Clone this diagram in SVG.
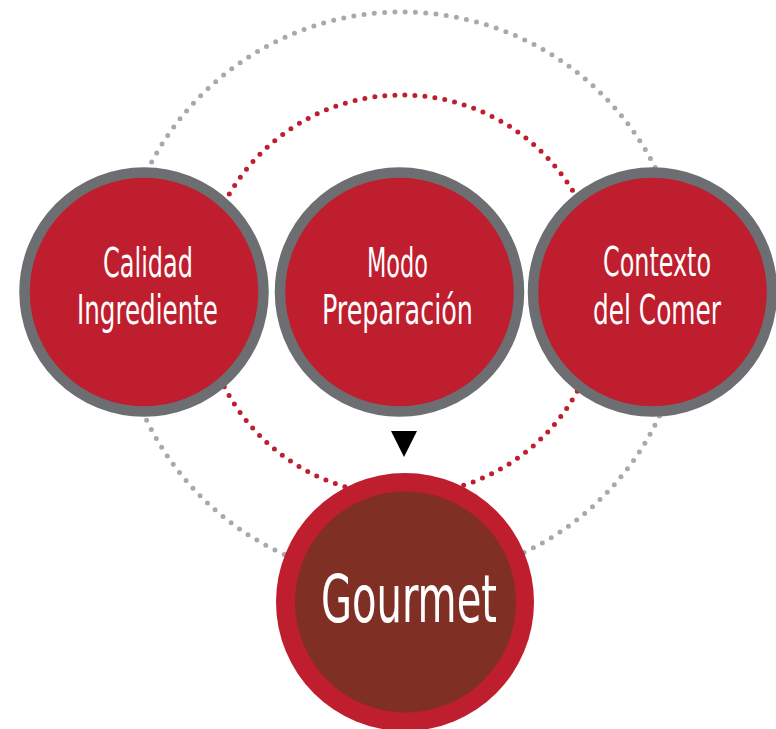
<svg xmlns="http://www.w3.org/2000/svg" width="776" height="729" viewBox="0 0 776 729">
<style>
.ring{fill:none;stroke-linecap:round;stroke-width:5}
.grey{stroke:#A7A9AC}
.red{stroke:#BE1E2D}
.node{fill:#BE1E2D;stroke:#6D6E71;stroke-width:10.5}
.lbl{fill:#FFFFFF;font-family:"DejaVu Sans Condensed","DejaVu Sans",sans-serif;font-stretch:condensed;font-size:40px;text-anchor:middle}
.big{font-size:66px}
</style>
<rect width="776" height="729" fill="#FFFFFF"/>
<g id="connectors">
<circle class="ring grey" cx="402" cy="296" r="284" stroke-dasharray="0 10.315"/>
<circle class="ring red" cx="402" cy="295" r="200" stroke-dasharray="0 10.053"/>
<polygon points="391,431 417,431 404,457" fill="#000000"/>
</g>
<g id="node-calidad">
<circle class="node" cx="144" cy="292" r="119.5"/>
<text class="lbl" x="148" y="277" textLength="90" lengthAdjust="spacingAndGlyphs">Calidad</text>
<text class="lbl" x="147.5" y="324" textLength="141" lengthAdjust="spacingAndGlyphs">Ingrediente</text>
</g>
<g id="node-modo">
<circle class="node" cx="399.5" cy="292" r="119.5"/>
<text class="lbl" x="397.5" y="277" textLength="61" lengthAdjust="spacingAndGlyphs">Modo</text>
<text class="lbl" x="397.5" y="324" textLength="151" lengthAdjust="spacingAndGlyphs">Preparación</text>
</g>
<g id="node-contexto">
<circle class="node" cx="652.5" cy="292" r="119.5"/>
<text class="lbl" x="657" y="276" textLength="108" lengthAdjust="spacingAndGlyphs">Contexto</text>
<text class="lbl" x="657" y="324" textLength="128" lengthAdjust="spacingAndGlyphs">del Comer</text>
</g>
<g id="node-gourmet">
<circle cx="405" cy="602" r="129" fill="#BE1E2D"/>
<circle cx="405.5" cy="602" r="110.5" fill="#7F2F24"/>
<text class="lbl big" x="409" y="622" textLength="176" lengthAdjust="spacingAndGlyphs">Gourmet</text>
</g>
</svg>
